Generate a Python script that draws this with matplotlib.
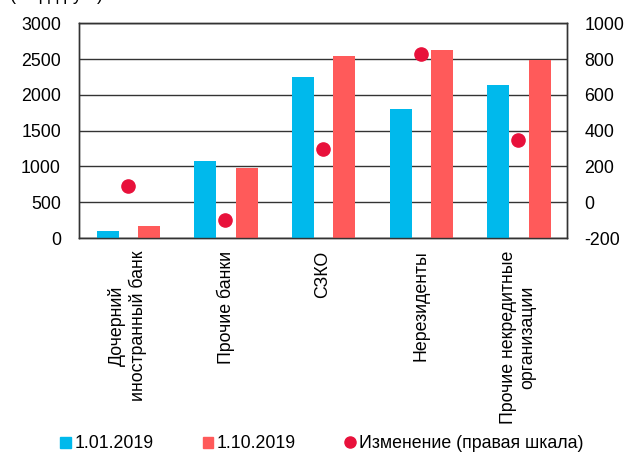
import numpy as np
import matplotlib
matplotlib.use("Agg")
import matplotlib.pyplot as plt
from matplotlib.lines import Line2D
from matplotlib.patches import Patch

plt.rcParams["font.family"] = ["Liberation Sans", "DejaVu Sans"]
plt.rcParams["axes.unicode_minus"] = False

# Data
categories = ["Дочерний\nиностранный банк", "Прочие банки", "СЗКО",
              "Нерезиденты", "Прочие некредитные\nорганизации"]
jan_2019 = [93, 1073, 2244, 1796, 2137]
oct_2019 = [173, 975, 2543, 2622, 2482]
change = [90, -98, 300, 826, 345]

left_ticks = [0, 500, 1000, 1500, 2000, 2500, 3000]
right_ticks = [-200, 0, 200, 400, 600, 800, 1000]

blue = "#00B9EC"
red = "#FF5A5A"
dot = "#E8113B"
fs = 12.8

fig = plt.figure(figsize=(6.25, 4.53), dpi=100)
ax = fig.add_axes([0.1264, 0.4746, 0.7808, 0.474])
x = np.arange(len(categories))
w = 0.225

ax.bar(x - 0.205, jan_2019, width=w, color=blue, zorder=3)
ax.bar(x + 0.22, oct_2019, width=w, color=red, zorder=3)
ax.set_xlim(-0.5, len(categories) - 0.5)
ax.set_ylim(0, 3000)
ax.set_yticks(left_ticks)
ax.yaxis.grid(True, color="#333333", linewidth=1)
ax.set_axisbelow(True)
ax.set_xticks(x)
ax.set_xticklabels(categories, rotation=90, multialignment="center", fontsize=fs)
ax.tick_params(axis="x", length=0, pad=9)
ax.tick_params(axis="y", length=0, pad=13, labelsize=fs)
for s in ax.spines.values():
    s.set_color("#333333")
    s.set_linewidth(1)

ax2 = ax.twinx()
ax2.plot(x, change, "o", color=dot, markersize=9.5, zorder=4, linestyle="none")
ax2.set_ylim(-200, 1000)
ax2.set_yticks(right_ticks)
ax2.tick_params(axis="y", length=0, pad=12.5, labelsize=fs)
for s in ax2.spines.values():
    s.set_color("#333333")
    s.set_linewidth(1)

# cut-off units line at the very top
fig.text(0.016, 1.0, "(млрд руб.)", fontsize=fs, va="baseline", ha="left")

handles = [Patch(color=blue, label="1.01.2019"),
           Patch(color=red, label="1.10.2019"),
           Line2D([], [], marker="o", color=dot, linestyle="none", markersize=8,
                  label="Изменение (правая шкала)")]
fig.legend(handles=handles, loc="center", bbox_to_anchor=(0.515, 0.02), ncol=3,
           frameon=False, fontsize=fs, handlelength=0.6, handleheight=0.6,
           handletextpad=0.2, columnspacing=2.75, borderpad=0)

fig.savefig("out.png", dpi=100)
